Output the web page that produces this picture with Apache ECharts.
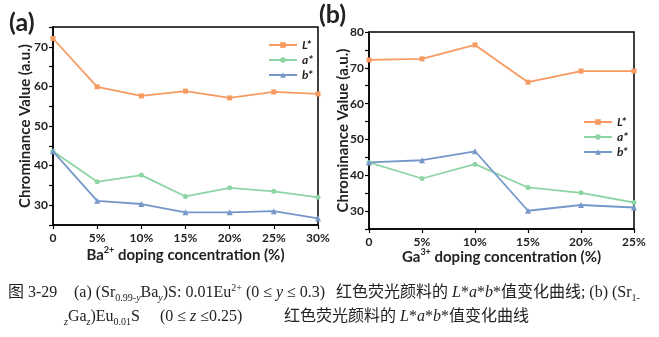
<!DOCTYPE html>
<html>
<head>
<meta charset="utf-8">
<script src="https://cdn.jsdelivr.net/npm/echarts@6/dist/echarts.min.js"></script>
<style>
html,body{margin:0;padding:0;background:#fff;}
#c{width:659px;height:337px;}
</style>
</head>
<body>
<div id="c"></div>
<script>
// ---- data ----
const catsA = ['0', '5%', '10%', '15%', '20%', '25%', '30%'];
const LA = [72.1, 59.9, 57.6, 58.8, 57.1, 58.6, 58.1];
const aA = [43.6, 35.9, 37.6, 32.2, 34.4, 33.5, 32.0];
const bA = [43.6, 31.1, 30.3, 28.2, 28.2, 28.5, 26.7];

const catsB = ['0', '5%', '10%', '15%', '20%', '25%'];
const LB = [72.2, 72.5, 76.4, 66.0, 69.1, 69.1];
const aB = [43.6, 39.1, 43.1, 36.6, 35.1, 32.4];
const bB = [43.6, 44.2, 46.7, 30.1, 31.7, 31.0];

const yTicksA = [30, 40, 50, 60, 70];
const yTicksB = [30, 40, 50, 60, 70, 80];

const cL = '#F69A62', cA = '#8ED5A5', cB = '#7598C9';
const sans = 'Lato';
const serif = "'Liberation Serif', 'Noto Sans CJK SC'";

const chart = echarts.init(document.getElementById('c'));

function yAxis(idx, min, max, ticks, gap) {
  return {
    type: 'value', gridIndex: idx, min: min, max: max, interval: 5,
    name: 'Chrominance Value (a.u.)', nameLocation: 'middle', nameGap: gap, nameMoveOverlap: false,
    nameTextStyle: {fontFamily: sans, fontWeight: 'bold', fontSize: 15, color: '#222'},
    axisLine: {show: true, lineStyle: {color: '#000', width: 1.5}},
    axisTick: {show: true, length: 4, lineStyle: {color: '#000', width: 1.2}},
    splitLine: {show: false},
    axisLabel: {
      margin: 5, fontFamily: sans, fontWeight: 'bold', fontSize: 12, color: '#222',
      formatter: v => ticks.indexOf(v) >= 0 ? String(v) : ''
    }
  };
}
function xAxis(idx, cats, nameRich, gap) {
  return {
    type: 'category', gridIndex: idx, data: cats, boundaryGap: false,
    name: nameRich, nameLocation: 'middle', nameGap: gap, nameMoveOverlap: false,
    nameTextStyle: {fontFamily: sans, fontWeight: 'bold', fontSize: 15, color: '#222', verticalAlign: 'top',
      rich: {sup: {fontFamily: sans, fontWeight: 'bold', fontSize: 9, color: '#222', verticalAlign: 'top', lineHeight: 18}}},
    axisLine: {show: true, lineStyle: {color: '#000', width: 1.5}},
    axisTick: {show: true, length: 4, alignWithLabel: true, lineStyle: {color: '#000', width: 1.2}},
    axisLabel: {margin: 7, fontFamily: sans, fontWeight: 'bold', fontSize: 12, color: '#222'}
  };
}
function ser(name, data, idx, color, symbol, size) {
  return {
    name: name, type: 'line', xAxisIndex: idx, yAxisIndex: idx, data: data,
    symbol: symbol, symbolSize: size, showSymbol: true,
    lineStyle: {color: color, width: 1.8}, itemStyle: {color: color},
    emphasis: {disabled: true}
  };
}
const legendText = {fontFamily: sans, fontWeight: 'bold', fontStyle: 'italic', fontSize: 12, color: '#222'};

const fs = 16, ss = 10, lh = 20;
const rich = {
  n: {fontFamily: serif, fontSize: fs, color: '#222', lineHeight: lh},
  i: {fontFamily: serif, fontStyle: 'italic', fontSize: fs, color: '#222', lineHeight: lh},
  sub: {fontFamily: serif, fontSize: ss, color: '#222', verticalAlign: 'bottom', lineHeight: lh},
  subi: {fontFamily: serif, fontStyle: 'italic', fontSize: ss, color: '#222', verticalAlign: 'bottom', lineHeight: lh},
  sup: {fontFamily: serif, fontSize: ss, color: '#222', verticalAlign: 'top', lineHeight: lh}
};
function cap(text, left, top) {
  return {text: text, left: left, top: top, padding: 0, itemGap: 0,
    textStyle: {fontFamily: serif, fontSize: fs, fontWeight: 'normal', color: '#222', lineHeight: lh, rich: rich}};
}

chart.setOption({
  animation: false,
  title: [
    cap('{n|图 3-29}', 8, 283),
    cap('{n|(a) (Sr}{sub|0.99-}{subi|y}{n|Ba}{subi|y}{n|)S: 0.01Eu}{sup|2+}{n| (0 ≤ }{i|y}{n| ≤ 0.3)}', 74, 283),
    cap('{n|红色荧光颜料的 }{i|L}{n|*}{i|a}{n|*}{i|b}{n|*值变化曲线; (b) (Sr}{sub|1-}', 336, 283),
    cap('{subi|z}{n|Ga}{subi|z}{n|)Eu}{sub|0.01}{n|S}', 64, 307),
    cap('{n|(0 ≤ }{i|z}{n| ≤0.25)}', 160, 307),
    cap('{n|红色荧光颜料的 }{i|L}{n|*}{i|a}{n|*}{i|b}{n|*值变化曲线}', 284, 307),
    {text: '(a)', left: 9, top: 10, padding: 0, textStyle: {fontFamily: sans, fontWeight: 'bold', fontSize: 25, color: '#222'}},
    {text: '(b)', left: 319, top: 2, padding: 0, textStyle: {fontFamily: sans, fontWeight: 'bold', fontSize: 25, color: '#222'}}
  ],
  grid: [
    {left: 53, top: 27, width: 265, height: 198, show: true, borderColor: '#000', borderWidth: 1.5},
    {left: 369, top: 32, width: 265, height: 197, show: true, borderColor: '#000', borderWidth: 1.5}
  ],
  xAxis: [xAxis(0, catsA, 'Ba{sup|2+} doping concentration (%)', 21), xAxis(1, catsB, 'Ga{sup|3+} doping concentration (%)', 19)],
  yAxis: [yAxis(0, 25, 75, yTicksA, 20), yAxis(1, 25, 80, yTicksB, 18)],
  legend: [
    {left: 263, top: 34, orient: 'vertical', itemWidth: 28, itemHeight: 7, itemGap: 3, textStyle: legendText,
     data: ['L*', 'a*', 'b*'], selectedMode: false},
    {left: 578, top: 111, orient: 'vertical', itemWidth: 28, itemHeight: 7, itemGap: 3, textStyle: legendText,
     data: ['L*', 'a*', 'b*'], selectedMode: false}
  ],
  series: [
    ser('L*', LA, 0, cL, 'rect', 5),
    ser('a*', aA, 0, cA, 'circle', 5),
    ser('b*', bA, 0, cB, 'triangle', 6),
    ser('L*', LB, 1, cL, 'rect', 5),
    ser('a*', aB, 1, cA, 'circle', 5),
    ser('b*', bB, 1, cB, 'triangle', 6)
  ]
});
</script>
</body>
</html>
